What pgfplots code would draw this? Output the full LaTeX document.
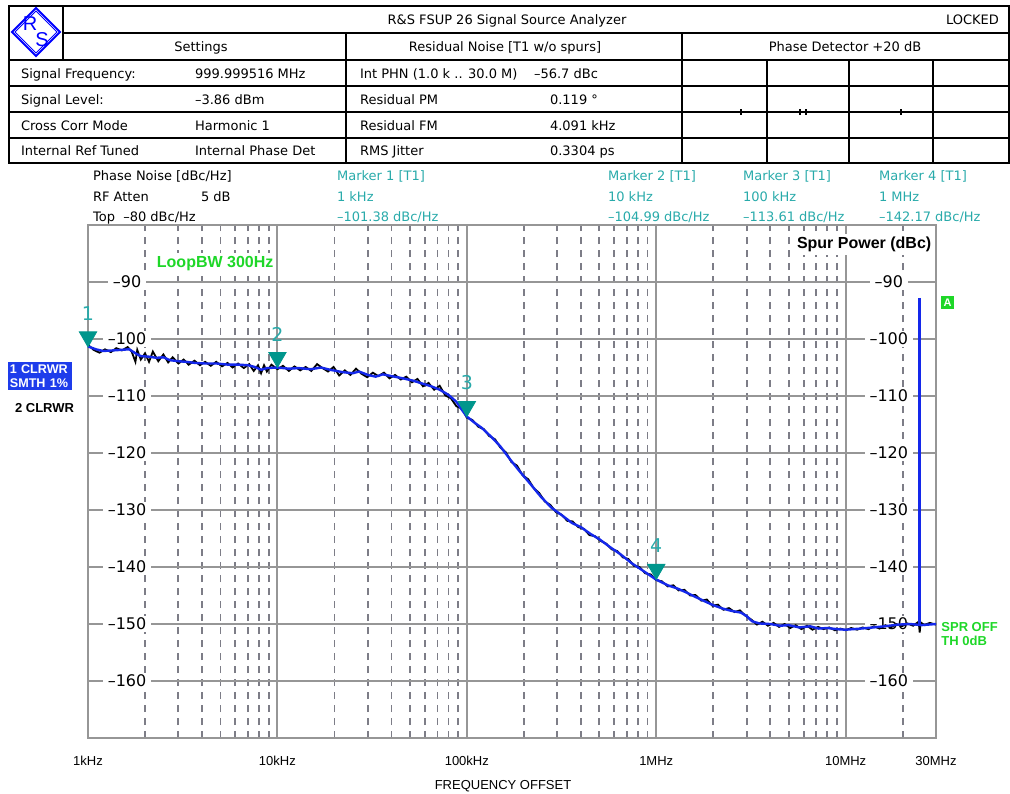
\documentclass[border=0pt]{standalone}
\usepackage{pgfplots}
\pgfplotsset{compat=1.18}
\usepackage{fontspec}
\setmainfont{DejaVu Sans}
\newfontfamily\arialf{Liberation Sans}

\definecolor{trblue}{RGB}{20,40,235}
\definecolor{lblblue}{RGB}{30,60,235}
\definecolor{mteal}{RGB}{0,150,140}
\definecolor{mtext}{RGB}{40,170,170}
\definecolor{rsgreen}{RGB}{30,215,40}
\definecolor{majgray}{RGB}{150,150,150}
\definecolor{mingray}{RGB}{125,125,135}

\newcommand\tf{\fontsize{6.5}{7.5}\selectfont}

% smoothed trace (1 CLRWR SMTH 1%)
\pgfplotstableread{
f v
1000 -101.3
1100 -101.8
1200 -102.1
1350 -102.0
1500 -101.9
1650 -101.8
1800 -102.6
1900 -103.0
2100 -103.1
2300 -103.3
2500 -103.2
2700 -103.7
3000 -103.9
3300 -104.0
3700 -104.2
4200 -104.3
4800 -104.3
5500 -104.5
6300 -104.5
7000 -104.6
7600 -104.9
8200 -105.4
8800 -105.1
10000 -105.0
11500 -105.2
13000 -105.1
15000 -105.3
17000 -105.0
19000 -105.4
22000 -105.8
25000 -106.0
27000 -105.7
30000 -106.3
33000 -106.6
36000 -106.2
40000 -106.5
46000 -106.9
52000 -107.3
58000 -107.8
65000 -108.3
72000 -108.9
80000 -109.8
88000 -111.0
95000 -112.6
100000 -113.6
110000 -114.7
120000 -115.6
135000 -117.2
150000 -118.8
170000 -121.2
190000 -123.2
215000 -125.3
245000 -127.6
280000 -129.6
320000 -131.0
360000 -132.3
400000 -133.0
450000 -134.2
500000 -135.1
570000 -136.5
650000 -137.8
740000 -139.3
830000 -140.4
920000 -141.4
1000000 -142.2
1150000 -143.2
1300000 -143.8
1450000 -144.5
1600000 -145.2
1800000 -146.0
2000000 -146.7
2250000 -147.3
2500000 -147.7
2800000 -148.0
3000000 -148.6
3200000 -149.5
3500000 -149.9
4000000 -150.0
4500000 -150.3
5000000 -150.2
5700000 -150.6
6500000 -150.4
7200000 -150.8
8000000 -150.7
9000000 -150.9
10000000 -151.0
12000000 -150.8
14000000 -150.6
16000000 -150.4
19000000 -150.1
22000000 -150.0
25000000 -150.2
30000000 -150.0
}\smoothtrace

% raw trace (2 CLRWR)
\pgfplotstableread{
f v
1000 -101.0
1070 -101.9
1150 -102.4
1230 -101.8
1320 -102.3
1410 -101.6
1510 -102.0
1620 -101.4
1700 -102.2
1780 -104.0
1820 -101.9
1900 -103.6
2000 -102.5
2100 -104.0
2200 -102.2
2350 -103.9
2500 -102.7
2650 -104.1
2800 -103.2
3000 -104.3
3200 -103.6
3400 -104.5
3650 -103.8
3900 -104.6
4150 -104.0
4450 -104.7
4750 -104.0
5100 -104.8
5450 -104.2
5800 -105.0
6200 -104.3
6650 -105.1
7100 -104.4
7500 -105.6
7900 -104.6
8200 -106.0
8500 -104.6
8800 -105.7
9300 -104.5
10000 -105.3
10700 -104.7
11500 -105.6
12300 -104.8
13200 -105.5
14100 -104.9
15100 -105.6
16200 -104.4
17300 -105.1
18500 -105.7
19800 -104.9
21200 -106.4
22700 -105.5
24300 -106.3
26000 -105.2
27800 -106.1
29800 -106.7
31900 -105.9
34100 -106.5
36500 -105.9
39100 -106.9
41800 -106.3
44800 -107.1
47900 -106.6
51300 -107.6
54900 -107.0
58700 -108.3
62800 -107.7
67200 -108.9
71900 -108.2
77000 -109.9
82400 -110.4
88100 -111.8
94300 -112.2
100000 -113.8
107000 -114.2
115000 -115.4
123000 -115.8
131000 -117.0
141000 -117.6
150000 -119.0
161000 -119.9
172000 -121.6
184000 -122.2
197000 -123.9
211000 -124.6
226000 -126.2
241000 -127.0
258000 -128.5
276000 -129.1
296000 -130.4
316000 -130.8
339000 -131.9
362000 -132.0
388000 -133.0
415000 -133.3
444000 -134.4
475000 -134.6
508000 -135.4
544000 -135.9
582000 -136.9
623000 -137.2
666000 -138.3
713000 -138.6
763000 -139.8
816000 -140.0
874000 -141.1
935000 -141.3
1000000 -142.3
1070000 -142.5
1150000 -143.4
1230000 -143.2
1310000 -144.1
1410000 -144.0
1510000 -145.0
1610000 -144.9
1730000 -145.9
1850000 -145.7
1980000 -146.8
2120000 -146.6
2260000 -147.5
2420000 -147.2
2590000 -147.9
2770000 -147.6
2970000 -148.6
3170000 -149.2
3400000 -150.1
3640000 -149.6
3890000 -150.3
4160000 -149.8
4450000 -150.5
4760000 -150.0
5100000 -150.7
5450000 -150.2
5840000 -150.9
6250000 -150.3
6680000 -151.0
7150000 -150.5
7650000 -150.9
8190000 -150.6
8770000 -151.1
9380000 -150.8
10000000 -151.1
10700000 -150.7
11500000 -151.0
12300000 -150.6
13200000 -150.9
14100000 -150.4
15100000 -150.8
16200000 -150.2
17300000 -150.6
18500000 -150.0
19800000 -150.4
21200000 -149.9
22700000 -150.3
24300000 -149.6
24600000 -151.5
24900000 -149.7
26000000 -150.2
27800000 -149.8
30000000 -150.1
}\rawtrace

\begin{document}
\begin{tikzpicture}
\begin{scope}[x=0.5pt,y=-0.5pt]
\useasboundingbox (0,0) rectangle (1010,793);

% ---- header table ----
\begin{scope}[line width=1pt]
  \draw (9,6) rectangle (1009,163);
  \draw (63,6) -- (63,60);
  \draw (63,33) -- (1009,33);
  \foreach \y in {60,86,112,138} \draw (9,\y) -- (1009,\y);
  \foreach \x in {346,682} \draw (\x,33) -- (\x,163);
  \foreach \x in {767,849,933} \draw (\x,60) -- (\x,163);
  \foreach \x in {741,800,806,901} \draw[line width=0.7pt] (\x,109) -- (\x,115);
\end{scope}

% R&S logo
\draw[blue, line width=0.9pt] (36,8) -- (60,32) -- (36,56) -- (12,32) -- cycle;
\draw[blue, line width=0.5pt] (36,11) -- (57,32) -- (36,53) -- (15,32) -- cycle;
\node[blue, font=\arialf\fontsize{10}{10}\selectfont] at (30,24) {R};
\node[blue, font=\arialf\fontsize{10}{10}\selectfont] at (42,40) {S};

\begin{scope}[font=\tf]
  \node[anchor=base] at (507,24) {R\&S FSUP 26 Signal Source Analyzer};
  \node[anchor=base east] at (1006,24) {LOCKED};
  \node[anchor=base] at (201,51) {Settings};
  \node[anchor=base] at (505,51) {Residual Noise [T1 w/o spurs]};
  \node[anchor=base] at (845,51) {Phase Detector +20 dB};

  \node[anchor=base west] at (14,78) {Signal Frequency:};
  \node[anchor=base west] at (14,104) {Signal Level:};
  \node[anchor=base west] at (14,130) {Cross Corr Mode};
  \node[anchor=base west] at (14,155) {Internal Ref Tuned};
  \node[anchor=base west] at (188,78) {999.999516 MHz};
  \node[anchor=base west] at (188,104) {–3.86 dBm};
  \node[anchor=base west] at (188,130) {Harmonic 1};
  \node[anchor=base west] at (188,155) {Internal Phase Det};

  \node[anchor=base west] at (353,78) {Int PHN (1.0 k .. 30.0 M)};
  \node[anchor=base west] at (353,104) {Residual PM};
  \node[anchor=base west] at (353,130) {Residual FM};
  \node[anchor=base west] at (353,155) {RMS Jitter};
  \node[anchor=base west] at (527,78) {–56.7 dBc};
  \node[anchor=base west] at (543,104) {0.119 °};
  \node[anchor=base west] at (543,130) {4.091 kHz};
  \node[anchor=base west] at (543,155) {0.3304 ps};

  % trace info lines
  \node[anchor=base west] at (86,180) {Phase Noise [dBc/Hz]};
  \node[anchor=base west] at (86,201) {RF Atten};
  \node[anchor=base west] at (194,201) {5 dB};
  \node[anchor=base west] at (86,221) {Top\ \ –80 dBc/Hz};
  \begin{scope}[text=mtext]
    \node[anchor=base west] at (330,180) {Marker 1 [T1]};
    \node[anchor=base west] at (330,201) {1 kHz};
    \node[anchor=base west] at (330,221) {–101.38 dBc/Hz};
    \node[anchor=base west] at (601,180) {Marker 2 [T1]};
    \node[anchor=base west] at (601,201) {10 kHz};
    \node[anchor=base west] at (601,221) {–104.99 dBc/Hz};
    \node[anchor=base west] at (736,180) {Marker 3 [T1]};
    \node[anchor=base west] at (736,201) {100 kHz};
    \node[anchor=base west] at (736,221) {–113.61 dBc/Hz};
    \node[anchor=base west] at (872,180) {Marker 4 [T1]};
    \node[anchor=base west] at (872,201) {1 MHz};
    \node[anchor=base west] at (872,221) {–142.17 dBc/Hz};
  \end{scope}
\end{scope}

\node[font=\arialf\fontsize{6.5}{7.5}\selectfont] at (503,786) {FREQUENCY OFFSET};

% trace labels left
\node[anchor=north west, fill=lblblue, text=white, inner xsep=0.75pt, inner ysep=1.2pt,
  text width=30.5pt, align=left, font=\arialf\bfseries\fontsize{6.3}{6.7}\selectfont]
  at (8,362) {1 CLRWR\\SMTH 1\%};
\node[anchor=base west, font=\arialf\bfseries\fontsize{6.5}{7.5}\selectfont] at (8,412) {2 CLRWR};

% right side labels
\node[fill=rsgreen, text=white, inner sep=0pt, minimum size=6.5pt, font=\arialf\bfseries\fontsize{5.5}{6}\selectfont] at (947.5,302.5) {A};
\node[anchor=north west, text=rsgreen, inner sep=0pt, align=left, font=\arialf\bfseries\fontsize{6.5}{7}\selectfont] at (941,622) {SPR OFF\\TH 0dB};
\end{scope}

% ---- phase noise plot ----
\begin{axis}[
    at={(44pt,-369pt)}, anchor=south west,
    width=424pt, height=256.5pt, scale only axis,
    xmode=log, xmin=1000, xmax=3e7, ymin=-170, ymax=-80,
    axis line style={draw=majgray, line width=1pt},
    xtick={1e3,1e4,1e5,1e6,1e7,3e7},
    xticklabels={1kHz,10kHz,100kHz,1MHz,10MHz,30MHz},
    minor xtick={2000,3000,4000,5000,6000,7000,8000,9000,
      20000,30000,40000,50000,60000,70000,80000,90000,
      200000,300000,400000,500000,600000,700000,800000,900000,
      2000000,3000000,4000000,5000000,6000000,7000000,8000000,9000000,
      20000000},
    ytick={-160,-150,-140,-130,-120,-110,-100,-90},
    yticklabels={},
    major tick length=0pt, minor tick length=0pt,
    xmajorgrids, xminorgrids, ymajorgrids,
    major grid style={draw=majgray, line width=1pt},
    minor grid style={draw=mingray, line width=0.9pt, dash pattern=on 3.5pt off 3pt},
    xticklabel style={font=\arialf\fontsize{6.5}{7.5}\selectfont, anchor=base, yshift=-13.5pt},
    clip=false,
  ]
  % level labels on the grid lines
  \foreach \v in {-90,-100,-110,-120,-130,-140,-150,-160} {
    \edef\tmp{\noexpand\node[fill=white, inner xsep=2.5pt, inner ysep=1pt, font=\noexpand\fontsize{8}{9}\noexpand\selectfont] at (axis cs:1607,\v) {–\the\numexpr-\v\relax};
      \noexpand\node[fill=white, inner xsep=2.5pt, inner ysep=1pt, font=\noexpand\fontsize{8}{9}\noexpand\selectfont] at (axis cs:16900000,\v) {–\the\numexpr-\v\relax};}
    \tmp
  }
  \node[fill=white, inner sep=1.5pt, text=rsgreen, font=\arialf\bfseries\fontsize{8}{9}\selectfont, anchor=west] at (axis cs:2218,-86.7) {LoopBW 300Hz};
  \node[fill=white, inner sep=1.5pt, font=\arialf\bfseries\fontsize{8}{9}\selectfont, anchor=east] at (axis cs:2.95e7,-83.4) {Spur Power (dBc)};

  \addplot[black, line width=0.9pt] table[x=f, y=v] {\rawtrace};
  \addplot[trblue, line width=1.2pt] table[x=f, y=v] {\smoothtrace};
  % spur
  \addplot[trblue, line width=1.3pt] coordinates {(24600000,-92.8) (24600000,-150.2)};
  % markers
  \addplot[only marks, mark=triangle*, color=mteal, mark size=5pt,
    mark options={yshift=5pt, rotate=180},
    point meta=explicit symbolic, nodes near coords,
    nodes near coords style={anchor=south, yshift=8pt, text=mtext, inner sep=0pt,
      font=\fontsize{9.5}{10}\selectfont}]
    coordinates {(1000,-101.38) [1] (10000,-104.99) [2] (100000,-113.61) [3] (1000000,-142.17) [4]};
\end{axis}
\end{tikzpicture}
\end{document}
